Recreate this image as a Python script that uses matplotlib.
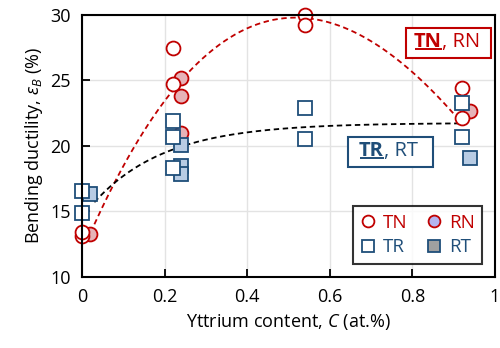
import matplotlib
matplotlib.use("Agg")
import matplotlib.pyplot as plt
from matplotlib.lines import Line2D
from matplotlib.patches import Rectangle
import numpy as np

plt.rcParams["font.family"] = ["Open Sans", "DejaVu Sans"]
plt.rcParams["mathtext.fontset"] = "custom"
plt.rcParams["mathtext.rm"] = "Open Sans"
plt.rcParams["mathtext.it"] = "Open Sans:italic"
plt.rcParams["mathtext.bf"] = "Open Sans:bold"

# ---------- datos ----------
tn_x = [0, 0, 0.22, 0.22, 0.54, 0.54, 0.92, 0.92]
tn_y = [13.1, 13.4, 27.5, 24.7, 30.0, 29.2, 24.4, 22.1]
rn_x = [0.02, 0.24, 0.24, 0.24, 0.94]
rn_y = [13.3, 25.2, 23.8, 21.0, 22.7]
tr_x = [0, 0, 0.22, 0.22, 0.22, 0.54, 0.54, 0.92, 0.92]
tr_y = [16.6, 14.9, 21.9, 20.7, 18.3, 22.9, 20.5, 23.3, 20.7]
rt_x = [0.02, 0.24, 0.24, 0.24, 0.94]
rt_y = [16.3, 20.1, 18.5, 17.9, 19.1]

# puntos de apoyo de las líneas de tendencia
trend_n_x = [0.03, 0.2, 0.35, 0.56, 0.78, 0.9]
trend_n_y = [14.0, 23.5, 28.1, 29.6, 26.3, 22.4]
trend_r_x = [0.03, 0.2, 0.4, 0.54, 0.92]
trend_r_y = [15.7, 19.5, 21.1, 21.4, 21.7]
trend_r_scale = 0.174   # escala del ajuste de saturación y = A - B*exp(-x/s)

RED = "#c00000"
BLUE = "#1f4e79"
RN_FILL = "#e6b3b8"
RT_FILL = "#b8cce4"

fig = plt.figure(figsize=(5.0, 3.48), dpi=100)
ax = fig.add_axes([0.164, 0.204, 0.826, 0.753])

# líneas de tendencia
cn = np.polyfit(trend_n_x, trend_n_y, 3)
xn = np.linspace(trend_n_x[0], trend_n_x[-1], 200)
ax.plot(xn, np.polyval(cn, xn), ls=(0, (3, 2)), color=RED, lw=1.3, zorder=2)
M = np.column_stack([np.ones(len(trend_r_x)),
                     -np.exp(-np.array(trend_r_x) / trend_r_scale)])
A, B = np.linalg.lstsq(M, np.array(trend_r_y), rcond=None)[0]
xr = np.linspace(trend_r_x[0], trend_r_x[-1], 200)
ax.plot(xr, A - B * np.exp(-xr / trend_r_scale), ls=(0, (3, 2)), color="black",
        lw=1.3, zorder=2)

ms = 10
kw = dict(ls="", mew=1.3, clip_on=False)
ax.plot(rn_x, rn_y, marker="o", ms=ms, mfc=RN_FILL, mec=RED, zorder=3, **kw)
ax.plot(tn_x, tn_y, marker="o", ms=ms, mfc="white", mec=RED, zorder=4, **kw)
ax.plot(rt_x, rt_y, marker="s", ms=9.5, mfc=RT_FILL, mec=BLUE, zorder=5, **kw)
ax.plot(tr_x, tr_y, marker="s", ms=9.5, mfc="white", mec=BLUE, zorder=6, **kw)

ax.set_xlim(0, 1)
ax.set_ylim(10, 30)
ax.set_xticks([0, 0.2, 0.4, 0.6, 0.8, 1])
ax.set_xticklabels(["0", "0.2", "0.4", "0.6", "0.8", "1"])
ax.set_yticks([10, 15, 20, 25, 30])
ax.tick_params(direction="in", length=6, width=1.3, labelsize=13, pad=8)
ax.grid(color="#e3e3e3", lw=1)
ax.set_axisbelow(True)
for s in ax.spines.values():
    s.set_linewidth(1.5)
    s.set_zorder(7)

ax.set_xlabel(r"Yttrium content, $\mathit{C}\ $(at.%)", fontsize=13)
ax.set_ylabel(r"Bending ductility, $\varepsilon_B$ (%)", fontsize=13)

# etiquetas con recuadro: parte en negrita subrayada + resto normal
labels = []
for x0, y0, bold, rest, col, pl, pr in [(0.803, 0.897, "TN", ", RN", RED, 8, 11),
                                        (0.67, 0.481, "TR", ", RT", BLUE, 11, 15)]:
    t1 = ax.text(x0, y0, bold, transform=ax.transAxes, ha="left", va="center",
                 fontsize=14.5, fontweight="bold", color=col, zorder=9)
    t2 = ax.annotate(rest, xy=(1, 0), xycoords=t1, ha="left", va="bottom",
                     fontsize=14.5, color=col, zorder=9)
    labels.append((t1, t2, col, pl, pr))

handles = [
    Line2D([], [], ls="", marker="o", ms=8.5, mfc="white", mec=RED, mew=1.3),
    Line2D([], [], ls="", marker="s", ms=8.5, mfc="white", mec=BLUE, mew=1.3),
    Line2D([], [], ls="", marker="o", ms=8.5, mfc="#b4b4f0", mec=RED, mew=1.3),
    Line2D([], [], ls="", marker="s", ms=8.5, mfc="#a0a0a0", mec=BLUE, mew=1.3),
]
leg = ax.legend(handles, ["TN", "TR", "RN", "RT"], ncol=2, loc="lower right",
                bbox_to_anchor=(0.969, 0.05), borderaxespad=0, fontsize=13.5,
                frameon=True, fancybox=False, edgecolor="black",
                handlelength=0.8, handletextpad=0.4, columnspacing=1.0,
                borderpad=0.4, labelspacing=0.35)
leg.get_frame().set_linewidth(1.5)
leg.set_zorder(10)
for t, c in zip(leg.get_texts(), [RED, BLUE, RED, BLUE]):
    t.set_color(c)

# recuadros y subrayado, una vez conocidas las medidas del texto
fig.canvas.draw()
r = fig.canvas.get_renderer()
inv = ax.transAxes.inverted()
for t1, t2, col, pl, pr in labels:
    b1 = t1.get_window_extent(r)
    b2 = t2.get_window_extent(r)
    (x0, y0), (x1, y1) = inv.transform([(b1.x0 - pl, b1.y0 - 6),
                                        (b2.x1 + pr, b1.y1 + 4)])
    ax.add_patch(Rectangle((x0, y0), x1 - x0, y1 - y0, transform=ax.transAxes,
                           fc="white", ec=col, lw=1.5, zorder=8))
    (ux0, uy), (ux1, _) = inv.transform([(b1.x0 + 1, b1.y0 + 3), (b1.x1, b1.y0)])
    ax.plot([ux0, ux1], [uy, uy], transform=ax.transAxes, color=col, lw=1.4,
            zorder=9, solid_capstyle="butt")

fig.savefig("out.png", dpi=100)
